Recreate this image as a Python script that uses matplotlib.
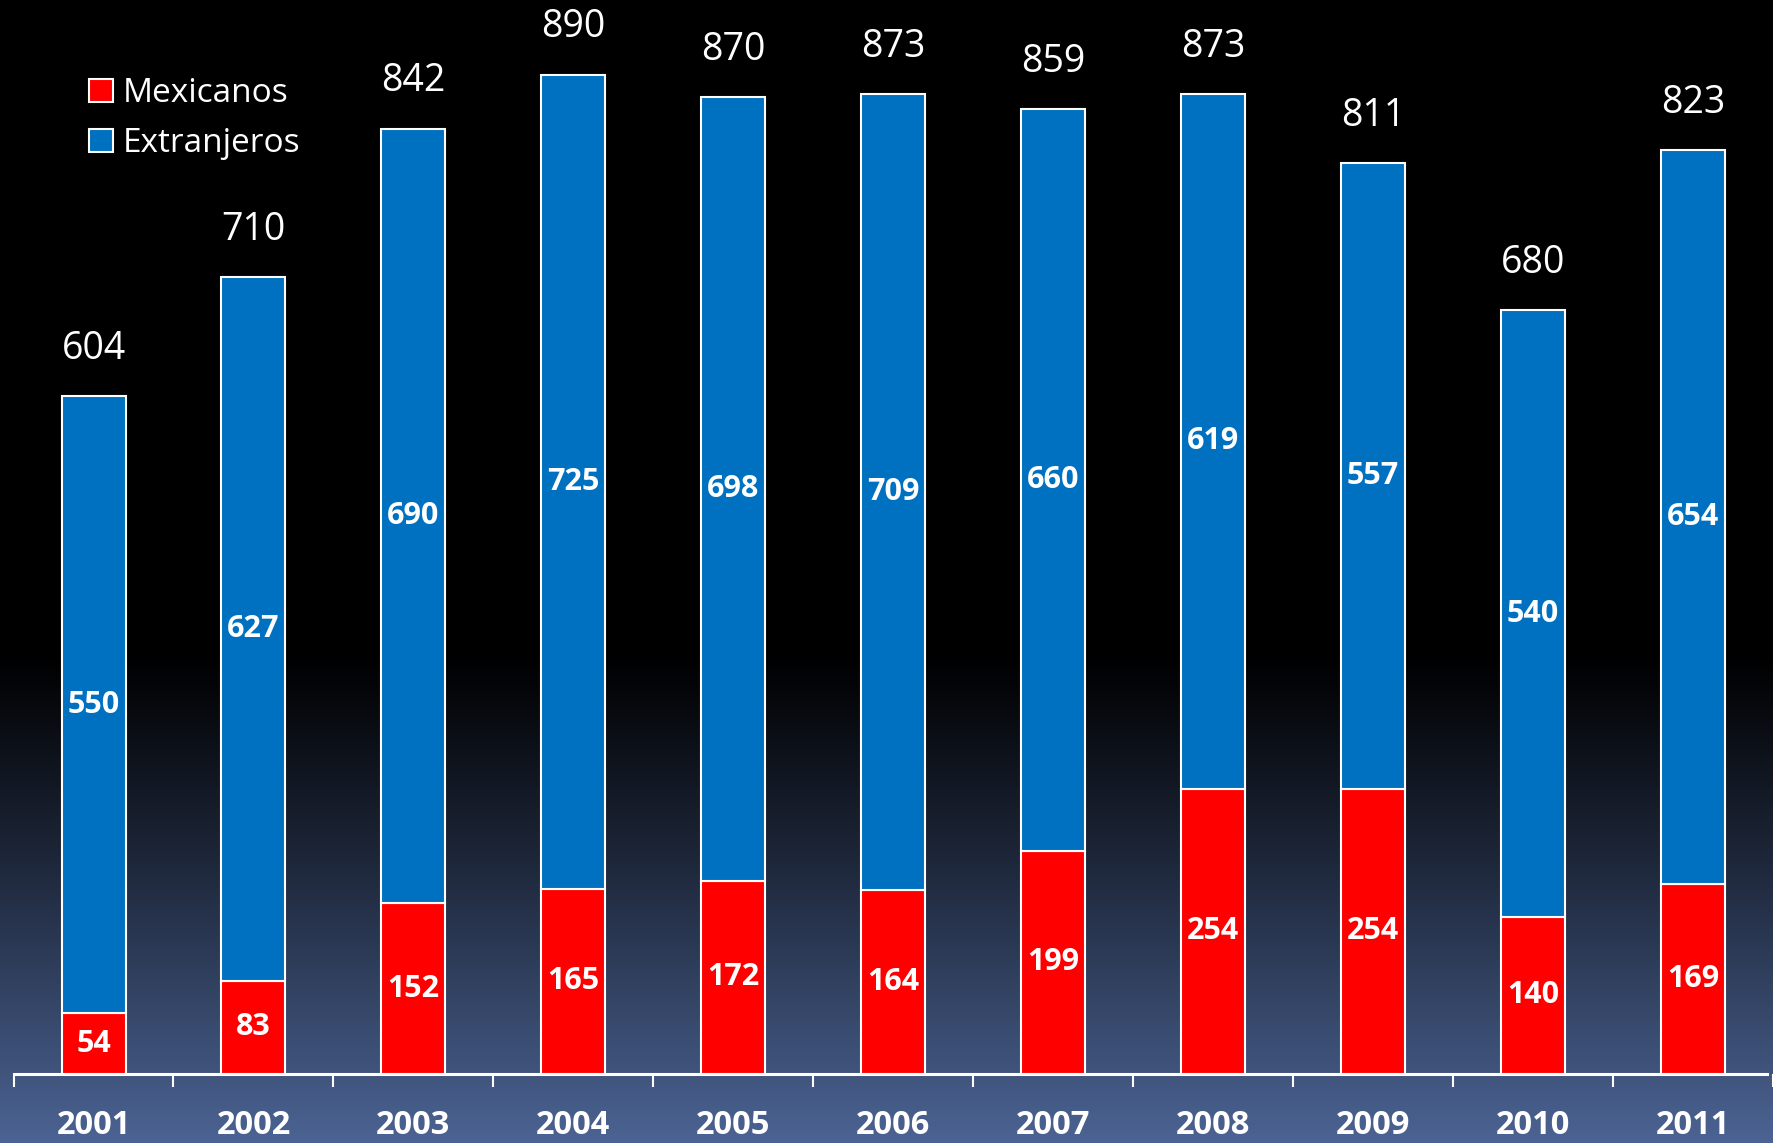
import numpy as np
import matplotlib.pyplot as plt

years = ['2001', '2002', '2003', '2004', '2005', '2006', '2007', '2008', '2009', '2010', '2011']
mexicanos = [54, 83, 152, 165, 172, 164, 199, 254, 254, 140, 169]
extranjeros = [550, 627, 690, 725, 698, 709, 660, 619, 557, 540, 654]

plt.rcParams['font.family'] = ['Open Sans', 'DejaVu Sans']

W, H = 1773, 1143
fig = plt.figure(figsize=(W / 100, H / 100), dpi=100)

# background: black on top fading into slate blue at the bottom
bg = fig.add_axes([0, 0, 1, 1])
bg.axis('off')
rows = np.arange(H)
t = np.clip((rows - 650) / (H - 650), 0, 1) ** 1.1
bottom_col = np.array([76, 100, 148]) / 255
grad = t[:, None, None] * bottom_col[None, None, :]
bg.imshow(grad, aspect='auto', extent=[0, 1, 0, 1])

ax = fig.add_axes([0, 69 / H, 1, 1074 / H])
ax.patch.set_alpha(0)
x = np.arange(len(years))
b1 = ax.bar(x, mexicanos, 0.4, color='#ff0000', edgecolor='white', linewidth=1.5, label='Mexicanos')
b2 = ax.bar(x, extranjeros, 0.4, bottom=mexicanos, color='#0070c0', edgecolor='white',
            linewidth=1.5, label='Extranjeros')
ax.bar_label(b1, label_type='center', color='white', fontsize=22, fontweight='bold')
ax.bar_label(b2, label_type='center', color='white', fontsize=22, fontweight='bold')

totals = np.array(mexicanos) + np.array(extranjeros)
for xi, tot in zip(x, totals):
    ax.annotate(str(tot), (xi, tot), xytext=(0, 34), textcoords='offset points',
                ha='center', va='center', color='white', fontsize=27)

ax.set_xlim(-0.5847, 10.462)
ax.set_ylim(0, 956.5)
for s in ['top', 'left', 'right']:
    ax.spines[s].set_visible(False)
ax.spines['bottom'].set_color('white')
ax.spines['bottom'].set_linewidth(2.2)
ax.spines['bottom'].set_bounds(-0.5, 10.462)
ax.set_yticks([])
ax.set_xticks(np.arange(-0.5, 11, 1))
ax.set_xticklabels([])
ax.tick_params(axis='x', which='major', length=9, width=1.5, color='white')
ax.set_xticks(x, minor=True)
ax.set_xticklabels(years, minor=True, color='white', fontsize=23.5, fontweight='bold')
ax.tick_params(axis='x', which='minor', length=0, pad=25)

leg = ax.legend(loc='upper left', bbox_to_anchor=(76 / W, 1 - 64 / 1074), frameon=False,
                fontsize=24, handlelength=0.7, handleheight=0.7, handletextpad=0.3,
                labelspacing=0.5, labelcolor='white', borderaxespad=0)

fig.savefig('out.png', dpi=100, facecolor='black')
